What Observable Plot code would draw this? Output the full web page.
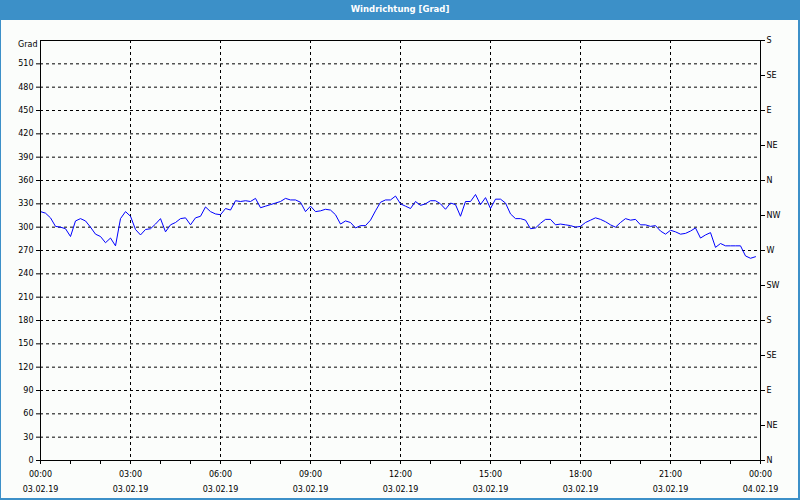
<!DOCTYPE html>
<html>
<head>
<meta charset="utf-8">
<script src="https://cdn.jsdelivr.net/npm/d3@7"></script>
<script src="https://cdn.jsdelivr.net/npm/@observablehq/plot@0.6"></script>
<style>
  html, body { margin: 0; padding: 0; }
  body { width: 800px; height: 500px; background: #3c90c8; position: relative; overflow: hidden; font-family: "DejaVu Sans", sans-serif; }
  #title { position: absolute; left: 0; top: 0; width: 800px; height: 20px; line-height: 19px; text-align: center; color: #ffffff; font-weight: bold; font-size: 8.5px; }
  #chart { position: absolute; left: 1px; top: 20px; width: 797px; height: 478px; background: #fbfdfb; }
  #chart svg { display: block; }
</style>
</head>
<body>
<div id="title">Windrichtung [Grad]</div>
<div id="chart"></div>
<script>
// Wind direction readings every 10 minutes, 03.02.19 00:00 – 23:50
const values = [
  320, 318, 312, 301, 300, 298, 288, 308, 311, 308,
  300, 291, 288, 280, 286, 276, 311, 320, 314, 297,
  290, 297, 298, 304, 311, 294, 303, 306, 311, 312,
  303, 312, 314, 326, 320, 317, 316, 324, 322, 334,
  333, 334, 333, 337, 325, 327, 329, 331, 333, 337,
  335, 335, 332, 320, 327, 320, 321, 323, 322, 316,
  304, 308, 306, 299, 302, 302, 309, 321, 332, 335,
  335, 340, 330, 327, 324, 333, 328, 330, 334, 334,
  330, 323, 331, 329, 314, 333, 333, 342, 329, 338,
  324, 336, 336, 331, 317, 311, 311, 309, 298, 299,
  305, 310, 310, 303, 304, 303, 302, 300, 301, 306,
  309, 312, 310, 307, 303, 300, 306, 311, 309, 310,
  303, 303, 301, 302, 295, 291, 296, 294, 291, 292,
  295, 299, 286, 290, 293, 274, 279, 276, 276, 276,
  276, 263, 260, 262
];
const startTime = new Date(2019, 1, 3, 0, 0);
const endTime = new Date(2019, 1, 4, 0, 0);
const stepMinutes = 10;

const yTicks = [0, 30, 60, 90, 120, 150, 180, 210, 240, 270, 300, 330, 360, 390, 420, 450, 480, 510];
const yGrid = [30, 60, 90, 120, 150, 180, 210, 240, 270, 300, 330, 360, 390, 420, 450, 480, 510];
const compassTicks = [0, 45, 90, 135, 180, 225, 270, 315, 360, 405, 450, 495, 540];
const compassLabels = ["N", "NE", "E", "SE", "S", "SW", "W", "NW", "N", "NE", "E", "SE", "S"];
const xLabelTimes = ["00:00", "03:00", "06:00", "09:00", "12:00", "15:00", "18:00", "21:00", "00:00"];
const xLabelDates = ["03.02.19", "03.02.19", "03.02.19", "03.02.19", "03.02.19", "03.02.19", "03.02.19", "03.02.19", "04.02.19"];

const data = values.map((v, i) => ({ t: new Date(startTime.getTime() + i * stepMinutes * 60000), v }));
const hourTicks = d3.timeHour.every(1).range(startTime, new Date(endTime.getTime() + 1));
const majorTicks = d3.timeHour.every(3).range(startTime, new Date(endTime.getTime() + 1));
const xGrid = majorTicks.slice(1, -1);
const idx = d => majorTicks.findIndex(m => +m === +d);

const chart = Plot.plot({
  width: 797,
  height: 478,
  marginLeft: 39,
  marginRight: 38,
  marginTop: 20,
  marginBottom: 38,
  style: { background: "transparent", fontFamily: "DejaVu Sans", fontSize: "8px", color: "#000" },
  x: { type: "time", domain: [startTime, endTime] },
  y: { domain: [0, 540] },
  marks: [
    Plot.ruleY(yGrid, { stroke: "#000", strokeDasharray: "3,3", strokeWidth: 1 }),
    Plot.ruleX(xGrid, { stroke: "#000", strokeDasharray: "3,3", strokeWidth: 1 }),
    Plot.line(data, { x: "t", y: "v", stroke: "#0000ff", strokeWidth: 1 }),
    Plot.frame({ stroke: "#000", strokeWidth: 1 }),
    Plot.axisY({ anchor: "left", ticks: yTicks, tickSize: 4, tickPadding: 3, label: null, tickFormat: d => String(d) }),
    Plot.axisY({ anchor: "right", ticks: compassTicks, tickSize: 4, tickPadding: 2, label: null,
      tickFormat: d => compassLabels[compassTicks.indexOf(d)] }),
    Plot.axisX({ ticks: hourTicks, tickSize: 4, tickFormat: () => "", label: null }),
    Plot.axisX({ ticks: majorTicks, tickSize: 0, tickPadding: 11, label: null, tickFormat: d => xLabelTimes[idx(d)] }),
    Plot.axisX({ ticks: majorTicks, tickSize: 0, tickPadding: 25.5, label: null, tickFormat: d => xLabelDates[idx(d)] }),
    Plot.text(["Grad"], { frameAnchor: "top-left", dx: -3, dy: 4, textAnchor: "end", lineAnchor: "middle", fill: "#000" })
  ]
});
document.getElementById("chart").appendChild(chart);
</script>
</body>
</html>
